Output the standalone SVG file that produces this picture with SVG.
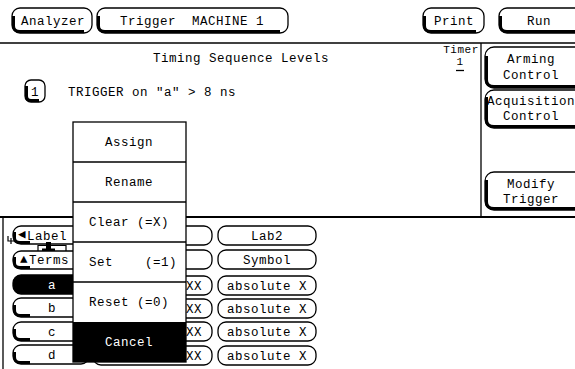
<svg xmlns="http://www.w3.org/2000/svg" width="575" height="369" viewBox="0 0 575 369">
<style>
text{font-family:"Liberation Mono","DejaVu Sans Mono",monospace;font-size:12.5px;letter-spacing:0.5px;fill:#000}
.c{text-anchor:middle}
.w{fill:#fff}
.s{font-size:11px}
.b{fill:#fff;stroke:#000;stroke-width:1.3}
.bk{fill:#000;stroke:#000;stroke-width:1.3}
.sh{fill:none;stroke:#000;stroke-width:3}
.ln{stroke:#000;fill:none}
</style>
<rect width="575" height="369" fill="#fff"/>
<g id="lines">
<line class="ln" x1="0" y1="43" x2="575" y2="43" stroke-width="1.5"/>
<line class="ln" x1="481" y1="43" x2="481" y2="217" stroke-width="1.3"/>
<line class="ln" x1="0" y1="217" x2="575" y2="217" stroke-width="2"/>
<line class="ln" x1="3" y1="217" x2="3" y2="369" stroke-width="1.3"/>
</g>
<g id="btn-analyzer"><rect class="b" x="12" y="8" width="80" height="25" rx="8"/><path class="sh" d="M13.5,16V26Q13.5,31.5 20,31.5H84"/><text class="c" x="53" y="25">Analyzer</text></g>
<g id="btn-trigger"><rect class="b" x="97" y="8" width="191" height="25" rx="8"/><path class="sh" d="M98.5,16V26Q98.5,31.5 105,31.5H280"/><text class="c" x="192" y="25" xml:space="preserve">Trigger  MACHINE 1</text></g>
<g id="btn-print"><rect class="b" x="423" y="8" width="61" height="25" rx="8"/><path class="sh" d="M424.5,16V26Q424.5,31.5 431,31.5H476"/><text class="c" x="454" y="25">Print</text></g>
<g id="btn-run"><rect class="b" x="499" y="8" width="90" height="25" rx="8"/><path class="sh" d="M500.5,16V26Q500.5,31.5 507,31.5H589"/><text class="c" x="539" y="25">Run</text></g>
<g id="title"><text class="c" x="241" y="62">Timing Sequence Levels</text></g>
<g id="timer"><text class="c s" x="461" y="53">Timer</text><text class="c s" x="460" y="65">1</text><line class="ln" x1="456" y1="70.5" x2="464" y2="70.5" stroke-width="1.3"/></g>
<g id="level1"><rect class="b" x="25" y="80" width="20" height="22" rx="6"/><path class="sh" d="M26.5,86V96Q26.5,100.5 31,100.5H39"/><text class="c" x="35" y="96">1</text><text x="68" y="96">TRIGGER on "a" &gt; 8 ns</text></g>
<g id="btn-arming"><rect class="b" x="485" y="47" width="100" height="41" rx="9"/><path class="sh" d="M486.5,56V80Q486.5,86.5 494,86.5H585"/><text class="c" x="531" y="63">Arming</text><text class="c" x="531" y="79">Control</text></g>
<g id="btn-acq"><rect class="b" x="485" y="90" width="100" height="38" rx="9"/><path class="sh" d="M486.5,97V120Q486.5,126.5 494,126.5H585"/><text x="487" y="105">Acquisition</text><text class="c" x="531" y="120">Control</text></g>
<g id="btn-modify"><rect class="b" x="485" y="172" width="100" height="38" rx="9"/><path class="sh" d="M486.5,180V202Q486.5,208.5 494,208.5H585"/><text class="c" x="531" y="188">Modify</text><text class="c" x="531" y="203">Trigger</text></g>
<g id="col3">
<g id="lab2"><rect class="b" x="218" y="226" width="98" height="19" rx="8"/><text class="c" x="267" y="240">Lab2</text></g>
<g id="symbol"><rect class="b" x="218" y="250" width="98" height="19" rx="8"/><text class="c" x="267" y="264">Symbol</text></g>
<g id="absA"><rect class="b" x="218" y="276" width="98" height="19" rx="8"/><text class="c" x="267" y="290">absolute X</text></g>
<g id="absB"><rect class="b" x="218" y="299" width="98" height="19" rx="8"/><text class="c" x="267" y="313">absolute X</text></g>
<g id="absC"><rect class="b" x="218" y="322" width="98" height="19" rx="8"/><text class="c" x="267" y="336">absolute X</text></g>
<g id="absD"><rect class="b" x="218" y="346" width="98" height="19" rx="8"/><text class="c" x="267" y="360">absolute X</text></g>
</g>
<g id="col2">
<rect class="b" x="93" y="226" width="119" height="19" rx="8"/>
<rect class="b" x="93" y="250" width="119" height="19" rx="8"/>
<rect class="b" x="93" y="276" width="119" height="19" rx="8"/><text x="186" y="290">XX</text>
<rect class="b" x="93" y="299" width="119" height="19" rx="8"/><text x="186" y="313">XX</text>
<rect class="b" x="93" y="322" width="119" height="19" rx="8"/><text x="186" y="336">XX</text>
<rect class="b" x="93" y="346" width="119" height="19" rx="8"/><text x="186" y="360">XX</text>
</g>
<g id="col1">
<g id="btn-label"><rect class="b" x="13" y="226" width="80" height="18" rx="8"/><path class="sh" d="M14.5,232V238Q14.5,242.5 20,242.5H30"/><text x="18" y="238" font-size="7">◀</text><text x="27" y="240">Label</text></g>
<path class="ln" d="M38,252V245.5H66V252" stroke-width="1.2"/>
<rect x="46" y="242" width="5" height="7" fill="#000"/><rect x="42" y="248.5" width="13" height="3.5" fill="#000"/>
<path class="ln" d="M8,236V241H14M11,238V244" stroke-width="1.2"/>
<g id="btn-terms"><rect class="b" x="13" y="251" width="80" height="18" rx="8"/><path class="sh" d="M14.5,257V263Q14.5,267.5 20,267.5H30"/><text x="20" y="263" font-size="7">▲</text><text x="29" y="264">Terms</text></g>
<g id="row-a"><rect class="bk" x="13" y="275" width="76" height="19" rx="8"/><text class="c w" x="52" y="289">a</text></g>
<g id="row-b"><rect class="b" x="13" y="298" width="76" height="19" rx="8"/><path class="sh" d="M14.5,305V310Q14.5,315.5 20,315.5H30"/><text class="c" x="52" y="312">b</text></g>
<g id="row-c"><rect class="b" x="13" y="322" width="76" height="19" rx="8"/><path class="sh" d="M14.5,329V334Q14.5,339.5 20,339.5H30"/><text class="c" x="52" y="336">c</text></g>
<g id="row-d"><rect class="b" x="13" y="345" width="76" height="19" rx="8"/><path class="sh" d="M14.5,352V357Q14.5,362.5 20,362.5H30"/><text class="c" x="52" y="359">d</text></g>
</g>
<g id="popup">
<rect x="73" y="122" width="113" height="240" fill="#fff" stroke="#000" stroke-width="1.3"/>
<line class="ln" x1="73" y1="162" x2="186" y2="162" stroke-width="1.3"/>
<line class="ln" x1="73" y1="202" x2="186" y2="202" stroke-width="1.3"/>
<line class="ln" x1="73" y1="242" x2="186" y2="242" stroke-width="1.3"/>
<line class="ln" x1="73" y1="282" x2="186" y2="282" stroke-width="1.3"/>
<rect x="73" y="322" width="113" height="40" fill="#000"/>
<text class="c" x="129" y="146">Assign</text>
<text class="c" x="129" y="186">Rename</text>
<text x="89" y="226">Clear (=X)</text>
<text x="89" y="266" xml:space="preserve">Set    (=1)</text>
<text x="89" y="306">Reset (=0)</text>
<text class="c w" x="129" y="346">Cancel</text>
</g>
</svg>
